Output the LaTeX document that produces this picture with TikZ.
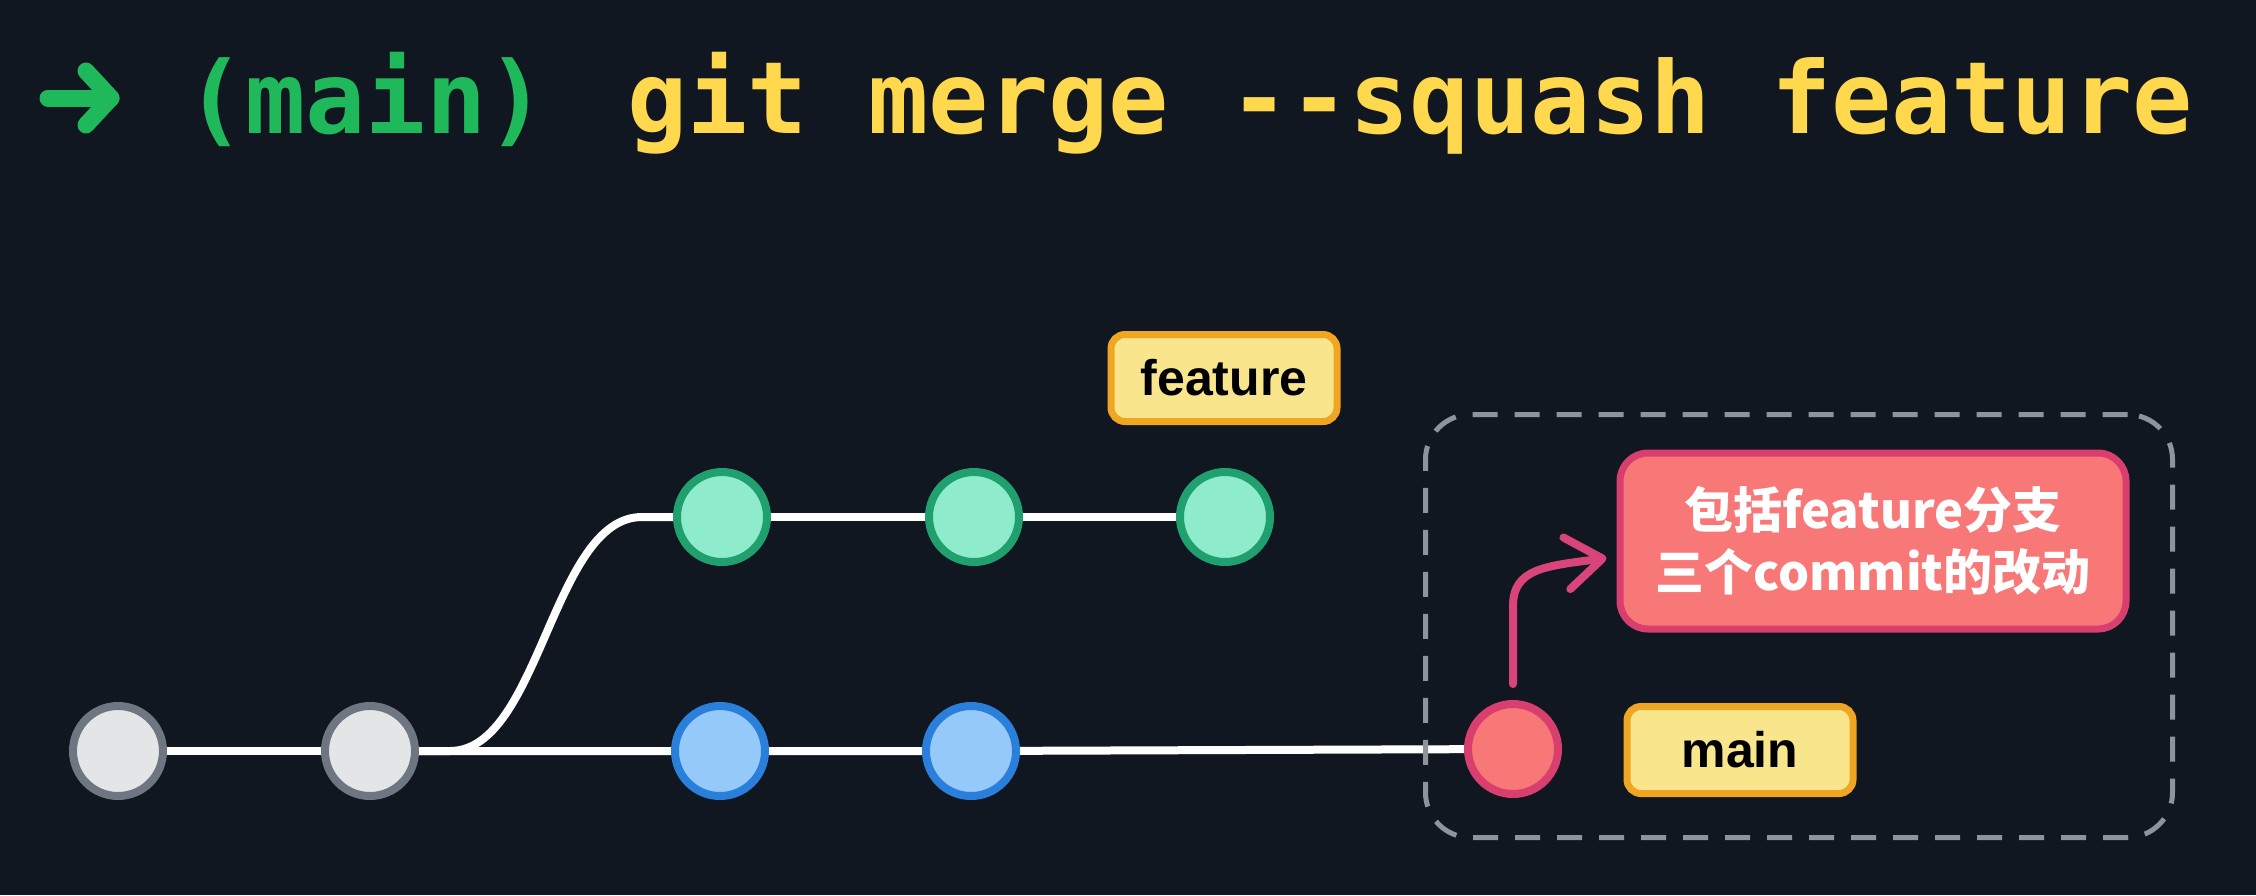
\documentclass[tikz,border=0pt]{standalone}
\usepackage{fontspec}
\setmonofont{DejaVu Sans Mono}
\setsansfont{Liberation Sans}
\newfontfamily\cjk{Noto Sans CJK SC}
\usetikzlibrary{arrows.meta}
\pgfdeclarelayer{backdrop}
\pgfdeclarelayer{bglayer}
\pgfsetlayers{backdrop,bglayer,main}
\definecolor{bgc}{HTML}{111720}
\definecolor{promptgreen}{HTML}{1FB85A}
\definecolor{cmdyellow}{HTML}{FFD84D}
\definecolor{grayfill}{HTML}{E4E5E7}
\definecolor{grayline}{HTML}{6E7681}
\definecolor{greenfill}{HTML}{8EEBCC}
\definecolor{greenline}{HTML}{1FA06E}
\definecolor{bluefill}{HTML}{94C9FA}
\definecolor{blueline}{HTML}{2A7FDB}
\definecolor{redfill}{HTML}{F87878}
\definecolor{redline}{HTML}{D83E6E}
\definecolor{labelfill}{HTML}{F8E58C}
\definecolor{labelline}{HTML}{F0A623}
\definecolor{dashgray}{HTML}{8E949C}
\definecolor{arrowpink}{HTML}{D9457A}
\tikzset{
  commit/.style={circle, minimum size=90pt, inner sep=0pt, line width=8pt},
  graycommit/.style={commit, fill=grayfill, draw=grayline},
  greencommit/.style={commit, fill=greenfill, draw=greenline},
  bluecommit/.style={commit, fill=bluefill, draw=blueline},
  redcommit/.style={commit, fill=redfill, draw=redline},
  branchlabel/.style={rectangle, rounded corners=14pt, fill=labelfill, draw=labelline, line width=7pt,
    minimum width=226pt, minimum height=87pt, inner sep=0pt,
    font=\sffamily\bfseries\fontsize{50}{60}\selectfont, text=black},
  edge/.style={draw=white, line width=8pt},
  notebox/.style={rectangle, rounded corners=28pt, fill=redfill, draw=redline, line width=7pt,
    minimum width=506pt, minimum height=176pt, inner sep=0pt, align=center,
    font=\cjk\bfseries\fontsize{49}{62}\selectfont, text=white},
  pinkarrow/.style={draw=arrowpink, line width=8pt, line cap=round, line join=round,
    -{Straight Barb[length=36pt,width=52pt,line cap=round,line join=round]}},
  dashframe/.style={draw=dashgray, line width=5pt, dash pattern=on 25pt off 17pt, rounded corners=45pt},
  promptarrow/.style={draw=promptgreen, line width=17pt, line cap=round, line join=round},
}
\begin{document}
\begin{tikzpicture}[x=1pt,y=-1pt]
\useasboundingbox (0,0) rectangle (2256,895);
\begin{pgfonlayer}{backdrop}
\fill[bgc] (0,0) rectangle (2256,895);
\end{pgfonlayer}

% prompt line
\coordinate (pa1) at (48,98);
\coordinate (pa2) at (111,98);
\draw[promptarrow] (pa1) -- (pa2);
\draw[promptarrow] ([xshift=-25pt,yshift=27pt]pa2) -- (pa2) -- ([xshift=-25pt,yshift=-27pt]pa2);
\node[anchor=base west, inner sep=0pt, text=promptgreen, font=\ttfamily\bfseries\fontsize{100}{120}\selectfont] (prompt) at (185,133) {(main)};
\node[anchor=base west, inner sep=0pt, text=cmdyellow, font=\ttfamily\bfseries\fontsize{100}{120}\selectfont] (cmd) at (627,133) {git merge -{}-squash feature};

% dashed frame
\node[dashframe, rectangle, minimum width=747pt, minimum height=423pt, inner sep=0pt] (frame) at (1799,626) {};

% commits
\node[graycommit] (g1) at (118,751) {};
\node[graycommit] (g2) at (370,751) {};
\node[greencommit] (f1) at (722,517) {};
\node[greencommit] (f2) at (974,517) {};
\node[greencommit] (f3) at (1225,517) {};
\node[bluecommit] (b1) at (720,751) {};
\node[bluecommit] (b2) at (971,751) {};
\node[redcommit] (r) at (1513,749) {};

% labels
\node[branchlabel] (featurelabel) at (1224,378) {feature};
\node[branchlabel] (mainlabel) at (1740,750) {main};
\node[notebox] (note) at (1873,541) {包括feature分支\\三个commit的改动};

% edges
\begin{pgfonlayer}{bglayer}
\draw[edge] (g1.center) -- (g2.center);
\draw[edge] (g2.center) -- (b1.center) -- (b2.center) -- (r.center);
\draw[edge] (f1.center) -- (f2.center) -- (f3.center);
\draw[edge] (g2.center) -- ++(80,0) .. controls +(90,0) and +(-90,0) .. ([xshift=-80pt]f1.center) -- (f1.center);
\end{pgfonlayer}

% arrow
\draw[pinkarrow] ([yshift=16pt]r.north) -- ++(0,-78) .. controls +(0,-38) and +(-60,8) .. ([xshift=-10pt,yshift=-17pt]note.west);
\end{tikzpicture}
\end{document}
